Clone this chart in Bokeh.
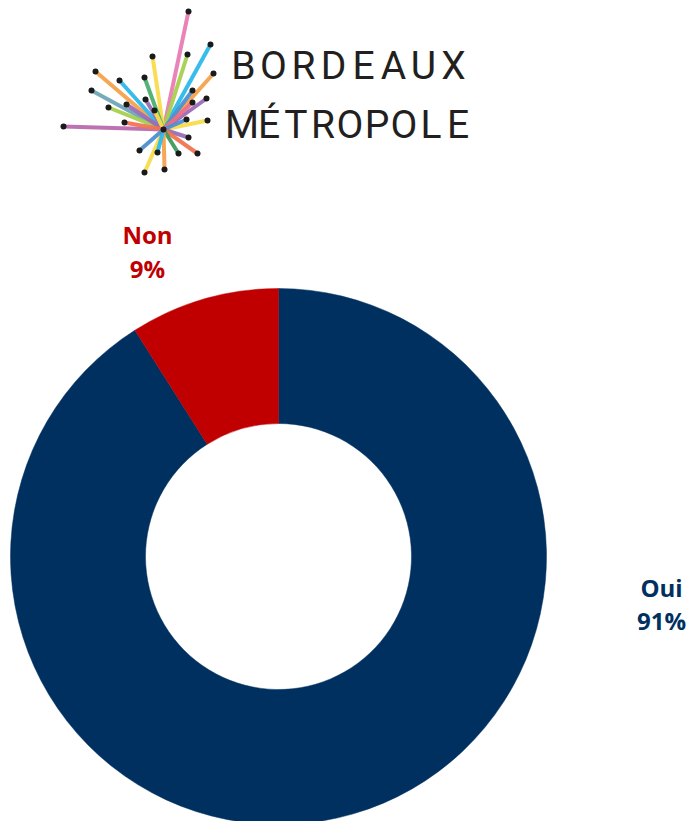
from bokeh.plotting import figure
from bokeh.models import Range1d, ColumnDataSource
from bokeh.core.properties import value
from bokeh.embed import file_html
from bokeh.resources import INLINE
import math

# ---- chart data ----
categories = ["Oui", "Non"]
shares = [91, 9]
pct_labels = ["91%", "9%"]
colors = ["#00305F", "#C00000"]

# ---- layout (reference pixel coords, y measured from top) ----
W, H = 690, 821
def Y(yp):
    return H - yp

cx, cy = 278, Y(556)
r_out, r_in = 268, 133
label_pos = {"Oui": (661, 587, 620), "Non": (147, 234, 268)}

p = figure(width=W, height=H, output_backend="svg", toolbar_location=None,
           x_range=Range1d(0, W), y_range=Range1d(0, H),
           min_border=0, outline_line_color=None)
p.axis.visible = False
p.grid.visible = False
p.background_fill_color = "white"
p.border_fill_color = "white"

# donut: start at top, go clockwise
total = float(sum(shares))
starts, ends = [], []
acc = 0.0
for s in shares:
    a0 = math.pi / 2 - 2 * math.pi * acc / total
    acc += s
    a1 = math.pi / 2 - 2 * math.pi * acc / total
    starts.append(a0)
    ends.append(a1)
src = ColumnDataSource(dict(cat=categories, start=starts, end=ends, color=colors))
p.annular_wedge(x=cx, y=cy, inner_radius=r_in, outer_radius=r_out,
                start_angle="start", end_angle="end", direction="clock",
                fill_color="color", line_color="color", line_width=0.5, source=src)

for cat, pct, col in zip(categories, pct_labels, colors):
    lx, y1, y2 = label_pos[cat]
    p.text(x=[lx], y=[Y(y1)], text=[cat], text_color=col, text_font=value("Open Sans"),
           text_font_style="bold", text_font_size="24px", text_align="center",
           text_baseline="middle")
    p.text(x=[lx], y=[Y(y2)], text=[pct], text_color=col, text_font=value("Open Sans"),
           text_font_style="bold", text_font_size="24px", text_align="center",
           text_baseline="middle")

# ---- logo (decoration) ----
lc = (163, 129)
rays = [
    ((188, 11), "#E97DB4"), ((210, 44), "#2DB8EA"), ((187, 54), "#A6CF4E"),
    ((213, 73), "#F5A24C"), ((152, 56), "#F8DC4B"), ((95, 71), "#F5A24C"),
    ((119, 80), "#2DB8EA"), ((144, 77), "#4DAF70"), ((91, 90), "#6FA6BB"),
    ((108, 107), "#A6CF4E"), ((126, 104), "#9A6DB5"), ((145, 99), "#9A6DB5"),
    ((154, 110), "#F8DC4B"), ((63, 126), "#B96BAE"), ((124, 122), "#F07452"),
    ((192, 90), "#4D8FD0"), ((206, 98), "#9A6DB5"), ((192, 102), "#EE6B86"),
    ((207, 120), "#F8DC4B"), ((186, 119), "#4D8FD0"), ((188, 137), "#9A6DB5"),
    ((197, 153), "#F07452"), ((178, 153), "#3E9A5E"), ((164, 169), "#F5A24C"),
    ((144, 172), "#F8DC4B"), ((157, 152), "#2DB8EA"), ((139, 150), "#4D8FD0"),
]
p.segment(x0=[lc[0]] * len(rays), y0=[Y(lc[1])] * len(rays),
          x1=[r[0][0] for r in rays], y1=[Y(r[0][1]) for r in rays],
          line_color=[r[1] for r in rays], line_width=4, line_alpha=0.95)
p.scatter(x=[r[0][0] for r in rays] + [lc[0]], y=[Y(r[0][1]) for r in rays] + [Y(lc[1])],
          size=6, fill_color="#1a1a1a", line_color=None)

def spaced(word, x0, x1, mid):
    n = len(word)
    pitch = (x1 - x0) / n
    xs = [x0 + pitch * (i + 0.5) for i in range(n)]
    p.text(x=xs, y=[Y(mid)] * n, text=list(word), text_color="#231F20",
           text_font=value("Roboto"), text_font_style="normal",
           text_font_size="39px", text_align="center", text_baseline="middle")

spaced("BORDEAUX", 228, 468, 65)
spaced("MÉTROPOLE", 228, 471, 124)

open("out.html", "w").write(file_html(p, INLINE))
